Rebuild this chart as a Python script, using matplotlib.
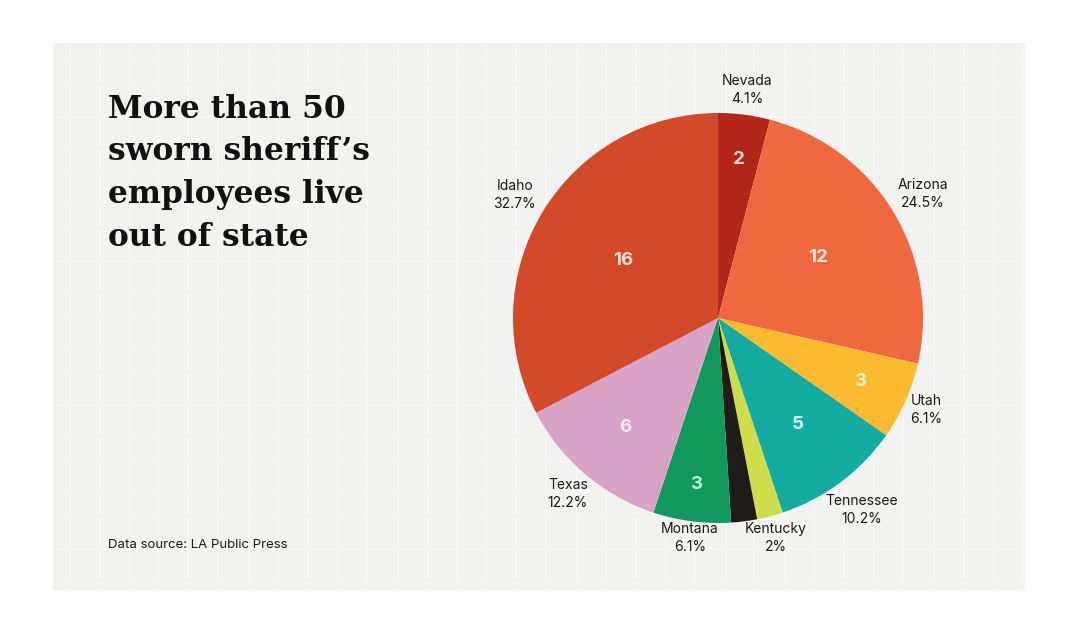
import numpy as np
import matplotlib
matplotlib.use("Agg")
import matplotlib.pyplot as plt

# ---- data ----
states = ["Nevada", "Arizona", "Utah", "Tennessee", "Kentucky", "Other", "Montana", "Texas", "Idaho"]
counts = [2, 12, 3, 5, 1, 1, 3, 6, 16]
pct_labels = ["4.1%", "24.5%", "6.1%", "10.2%", "2%", "", "6.1%", "12.2%", "32.7%"]
show_count = [True, True, True, True, False, False, True, True, True]

# ---- style ----
colors = ["#b3261a", "#ee6940", "#fbba2f", "#14aca1", "#cfdd4b", "#1e1b18", "#11985d", "#d8a3c7", "#d24a2a"]
count_colors = ["#f6dcd6", "#fde8df", "#fff1d6", "#e0f6f3", "w", "w", "#bff3d6", "#f6ecf3", "#fbe2da"]
inner_r = [0.78, 0.57, 0.76, 0.65, 0.6, 0.6, 0.82, 0.70, 0.54]
outer_r = [1.12, 1.17, 1.11, 1.17, 1.11, 1.1, 1.08, 1.13, 1.16]

W, H = 1080, 627
fig = plt.figure(figsize=(W / 100, H / 100), dpi=100, facecolor="white")

# background panel with faint grid
px0, py0, px1, py1 = 53, 43, 1025, 590
bg = fig.add_axes([px0 / W, 1 - py1 / H, (px1 - px0) / W, (py1 - py0) / H])
bg.set_xlim(px0, px1)
bg.set_ylim(py1, py0)
bg.set_facecolor("#f2f2f0")
for x in np.arange(px0 + 16, px1, 29.8):
    bg.axvline(x, color="#f7f7f6", lw=1.0, zorder=0)
for y in np.arange(py0 + 15, py1, 28.8):
    bg.axhline(y, color="#f7f7f6", lw=1.0, zorder=0)
bg.set_xticks([]); bg.set_yticks([])
for s in bg.spines.values():
    s.set_visible(False)

# title
title_lines = ["More than 50", "sworn sheriff\u2019s", "employees live", "out of state"]
for i, line in enumerate(title_lines):
    fig.text(108 / W, 1 - (118 + 42.5 * i) / H, line, fontsize=22.5,
             fontweight="bold", family="DejaVu Serif", color="#111111",
             ha="left", va="baseline")

fig.text(108 / W, 1 - 548 / H, "Data source: LA Public Press", fontsize=9.5,
         family="Inter", color="#1a1a1a", ha="left", va="baseline")

# pie
cx, cy, R = 718, 318, 205
lim = 1.35
side = 2 * lim * R
ax = fig.add_axes([(cx - side / 2) / W, (H - cy - side / 2) / H, side / W, side / H])
wedges, _ = ax.pie(counts, colors=colors, startangle=90, counterclock=False,
                   radius=1.0, wedgeprops=dict(linewidth=0))
ax.set_xlim(-lim, lim)
ax.set_ylim(-lim, lim)
ax.axis("off")

for i, w in enumerate(wedges):
    mid = np.deg2rad((w.theta1 + w.theta2) / 2)
    c, s = np.cos(mid), np.sin(mid)
    if show_count[i]:
        ax.text(inner_r[i] * c, inner_r[i] * s, str(counts[i]), ha="center", va="center",
                fontsize=13.5, fontweight="bold", family="Inter", color=count_colors[i])
    if pct_labels[i]:
        ax.text(outer_r[i] * c, outer_r[i] * s, f"{states[i]}\n{pct_labels[i]}",
                ha="center", va="center", fontsize=10, family="Inter",
                color="#1a1a1a", linespacing=1.35)

fig.savefig("out.png", dpi=100, facecolor="white")
